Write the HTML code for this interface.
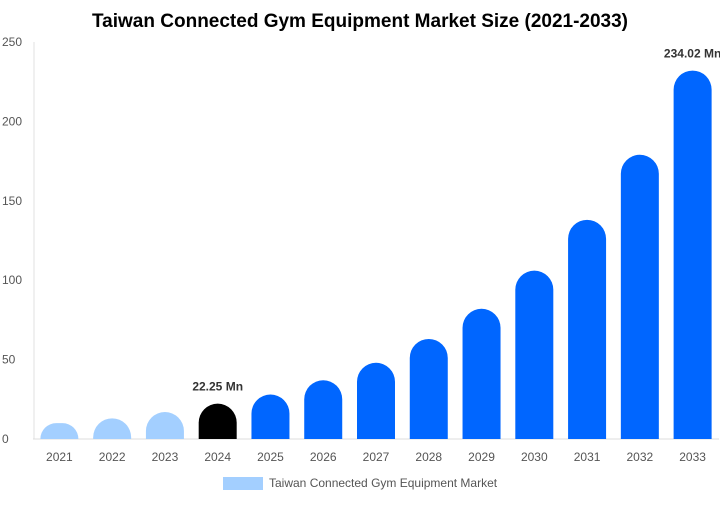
<!DOCTYPE html>
<html><head><meta charset="utf-8"><style>
body{margin:0;background:#fff;font-family:"Liberation Sans",Arial,sans-serif}
svg text{font-family:"Liberation Sans",Arial,sans-serif}
</style></head><body>
<svg id="c" width="720" height="500">
<text x="360" y="27" text-anchor="middle" font-size="19" font-weight="bold" fill="#000">Taiwan Connected Gym Equipment Market Size (2021-2033)</text>
<g id="axes"></g><g id="bars"></g>
<rect x="223" y="477" width="40" height="13" fill="#a3cfff"/>
<text x="269" y="487" font-size="12" fill="#555">Taiwan Connected Gym Equipment Market</text>
</svg>
<script>
const categories=["2021","2022","2023","2024","2025","2026","2027","2028","2029","2030","2031","2032","2033"];
const values=[10,13,17,22.25,28,37,48,63,82,106,138,179,232];
const yTicks=[0,50,100,150,200,250];
const labels={3:"22.25 Mn",12:"234.02 Mn"};
const NS="http://www.w3.org/2000/svg";
const x0=33,x1=719,yb=439,yt=42,ymax=250;
const band=(x1-x0)/categories.length;
const X=i=>x0+band*(i+0.5);
const Y=v=>yb-(v/ymax)*(yb-yt);
function mk(t,a,p){const e=document.createElementNS(NS,t);for(const k in a)e.setAttribute(k,a[k]);p.appendChild(e);return e;}
const ax=document.getElementById('axes'),bg=document.getElementById('bars');
const yl=mk('line',{x1:x0+1,x2:x0+1,y1:yt,y2:yb,stroke:'#e0e0e0'},ax);


const xl=mk('line',{x1:x0,x2:x1,y1:yb,y2:yb,stroke:'#ddd'},ax);


yTicks.forEach(v=>{const t=mk('text',{x:2,y:Y(v)+4,'font-size':12,fill:'#555'},ax);t.textContent=v;

});
categories.forEach((c,i)=>{
 const cx=X(i),w=38,h=yb-Y(values[i]),r=Math.min(19,h);
 const col=i<3?'#a3cfff':(i==3?'#000':'#0066ff');
 const l=cx-w/2,rr=cx+w/2,top=Y(values[i]);
 const d=`M${l},${yb}V${top+r}A${r},${r} 0 0 1 ${l+r},${top}H${rr-r}A${r},${r} 0 0 1 ${rr},${top+r}V${yb}Z`;
 const p=mk('path',{d:d,fill:col},bg);
 
 
 const t=mk('text',{x:cx,y:461,'text-anchor':'middle','font-size':12,fill:'#555'},ax);t.textContent=c;
 
 
 if(labels[i]){const v=mk('text',{x:cx,y:top-13,'text-anchor':'middle','font-size':12,'font-weight':'bold',fill:'#333'},bg);v.textContent=labels[i];
 
 }
});
</script>
</body></html>
